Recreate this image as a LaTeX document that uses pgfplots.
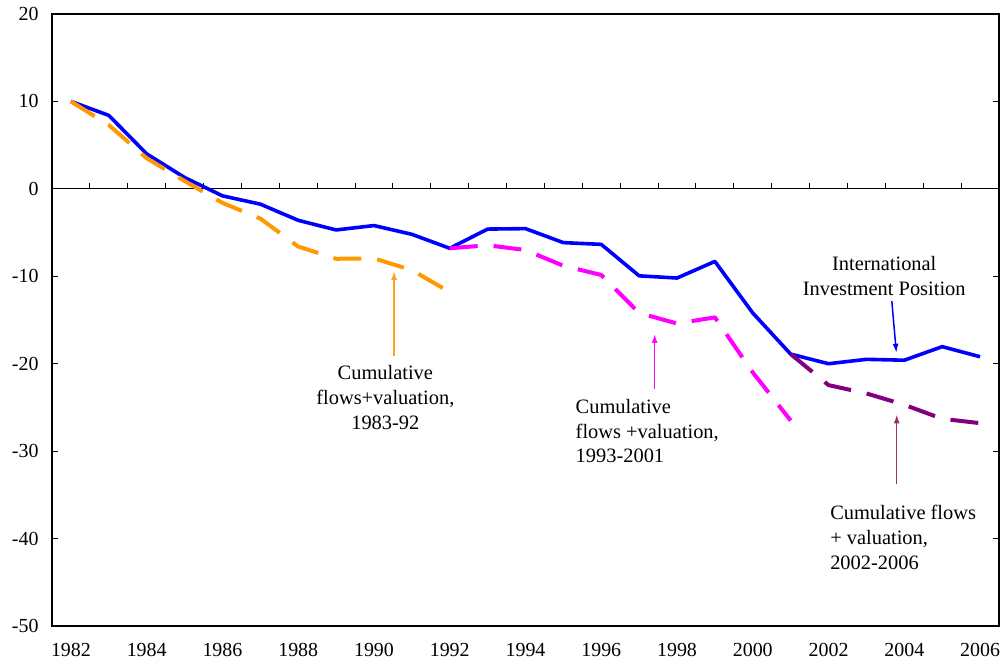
\documentclass[border=0pt]{standalone}
\usepackage{fontspec}
\setmainfont{Liberation Serif}
\usepackage{pgfplots}
\pgfplotsset{compat=1.18}
\usetikzlibrary{arrows.meta}
\definecolor{iipblue}{HTML}{0000FF}
\definecolor{cforange}{HTML}{FF9900}
\definecolor{cfarrow}{HTML}{FFA020}
\definecolor{cfmagenta}{HTML}{FF00FF}
\definecolor{cfpurple}{HTML}{800080}
\definecolor{cfplum}{HTML}{993366}
\begin{document}
\begin{tikzpicture}
\useasboundingbox (-52bp,-45bp) rectangle (954bp,626bp);
\begin{axis}[
  at={(0,0)}, anchor=south west,
  scale only axis, width=947bp, height=612bp,
  xmin=1981.5, xmax=2006.5, ymin=-50, ymax=20,
  xtick={1982,1984,...,2006},
  xticklabels={1982,1984,1986,1988,1990,1992,1994,1996,1998,2000,2002,2004,2006},
  x tick style={draw=none},
  ytick={-50,-40,...,20},
  yticklabels={-50,-40,-30,-20,-10,0,10,20},
  tick align=inside,
  major tick length=6bp,
  tick style={black, line width=1bp},
  axis line style={black, line width=1.3bp},
  tick label style={font=\fontsize{20}{24}\selectfont},
  xticklabel style={yshift=-14bp},
  yticklabel style={xshift=-10bp},
  clip=false,
]
% zero line with category ticks
\draw[black, line width=1.2bp] (axis cs:1981.5,0) -- (axis cs:2006.5,0);
\pgfplotsinvokeforeach{1982.5,1983.5,...,2005.5}{
  \draw[black, line width=1bp] (axis cs:#1,0) -- ([yshift=6bp]axis cs:#1,0);
}
% IIP
\addplot[iipblue, line width=3.6bp, line join=round] coordinates {
(1982,10.0) (1983,8.4) (1984,4.0) (1985,1.3) (1986,-0.8) (1987,-1.75)
(1988,-3.6) (1989,-4.7) (1990,-4.2) (1991,-5.2) (1992,-6.8) (1993,-4.6)
(1994,-4.55) (1995,-6.15) (1996,-6.35) (1997,-9.95) (1998,-10.2) (1999,-8.3)
(2000,-14.2) (2001,-18.9) (2002,-20.0) (2003,-19.5) (2004,-19.6) (2005,-18.05)
(2006,-19.2)};
% 1983-92
\addplot[cforange, line width=4bp, line join=round, dash pattern=on 28bp off 16bp] coordinates {
(1982,10.0) (1983,7.3) (1984,3.5) (1985,0.9) (1986,-1.6) (1987,-3.4)
(1988,-6.6) (1989,-8.0) (1990,-7.95) (1991,-9.3) (1992,-11.8)};
% 1993-2001
\addplot[cfmagenta, line width=4bp, line join=round, dash pattern=on 28bp off 16bp] coordinates {
(1992,-6.8) (1993,-6.45) (1994,-7.0) (1995,-8.8) (1996,-9.85) (1997,-14.2)
(1998,-15.4) (1999,-14.7) (2000,-21.0) (2001,-26.5)};
% 2002-2006
\addplot[cfpurple, line width=4bp, line join=round, dash pattern=on 28bp off 16bp] coordinates {
(2001,-18.9) (2002,-22.45) (2003,-23.4) (2004,-24.7) (2005,-26.3) (2006,-26.8)};
% annotations
\draw[cfarrow, line width=1.5bp, -{Latex[length=9bp,width=6bp]}] (axis cs:1990.53,-19.1) -- (axis cs:1990.53,-9.4);
\node[align=center, inner sep=0pt, font=\fontsize{20.5}{25}\selectfont] at (axis cs:1990.3,-23.9)
  {Cumulative\\flows+valuation,\\1983-92};
\draw[cfmagenta, line width=1.5bp, -{Latex[length=9bp,width=6bp]}] (axis cs:1997.41,-22.9) -- (axis cs:1997.41,-16.6);
\node[align=left, anchor=west, inner sep=0pt, font=\fontsize{20.5}{25}\selectfont] at (axis cs:1995.32,-27.7)
  {Cumulative\\flows +valuation,\\1993-2001};
\draw[iipblue, line width=1.5bp, -{Latex[length=9bp,width=6bp]}] (axis cs:2003.67,-12.83) -- (axis cs:2003.79,-18.75);
\node[align=center, inner sep=0pt, font=\fontsize{20.5}{25}\selectfont] at (axis cs:2003.47,-10.0)
  {International\\Investment Position};
\draw[cfplum, line width=1.5bp, -{Latex[length=9bp,width=6bp]}] (axis cs:2003.8,-33.8) -- (axis cs:2003.8,-25.8);
\node[align=left, anchor=west, inner sep=0pt, font=\fontsize{20.5}{25}\selectfont] at (axis cs:2002.04,-39.9)
  {Cumulative flows\\+ valuation,\\2002-2006};
\end{axis}
\end{tikzpicture}
\end{document}
